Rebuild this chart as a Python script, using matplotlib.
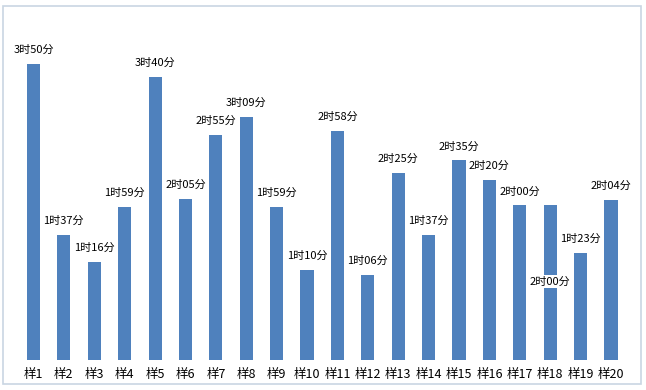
import matplotlib
matplotlib.use("Agg")
import matplotlib.pyplot as plt
from matplotlib.patches import Rectangle

plt.rcParams['font.family'] = ['Noto Sans CJK SC', 'DejaVu Sans']

# sample names and durations (minutes)
samples = ['样%d' % i for i in range(1, 21)]
minutes = [230, 97, 76, 119, 220, 125, 175, 189, 119, 70,
           178, 66, 145, 97, 155, 140, 120, 120, 83, 124]
labels = ['%d时%02d分' % (m // 60, m % 60) for m in minutes]

fig = plt.figure(figsize=(6.46, 3.9), dpi=100)
ax = fig.add_axes([0.0283, 0.0769, 0.941, 0.8257])

x = list(range(len(samples)))
ax.bar(x, minutes, width=0.43, color='#4f81bd', zorder=2)
ax.set_xlim(-0.5, len(samples) - 0.5)
ax.set_ylim(0, 250)
ax.set_yticks([])
ax.set_xticks(x)
ax.set_xticklabels(samples, fontsize=9)
ax.tick_params(axis='x', length=0, pad=6)
for s in ax.spines.values():
    s.set_visible(False)

# data labels, one moved down like in the original
for i, (m, lab) in enumerate(zip(minutes, labels)):
    dy = 14
    if i == 17:
        dy = -76
    ax.annotate(lab, (i, m), xytext=(0, dy * 0.72), textcoords='offset points',
                ha='center', va='center', fontsize=8, zorder=3,
                bbox=dict(boxstyle='square,pad=0.15', fc='white', ec='none'))

# chart border
fig.patches.append(Rectangle((2.5 / 646, 6 / 390), 638.5 / 646, 377.5 / 390,
                             transform=fig.transFigure, fill=False,
                             ec='#c9d6e3', lw=1.2))

fig.savefig('out.png', dpi=100)
